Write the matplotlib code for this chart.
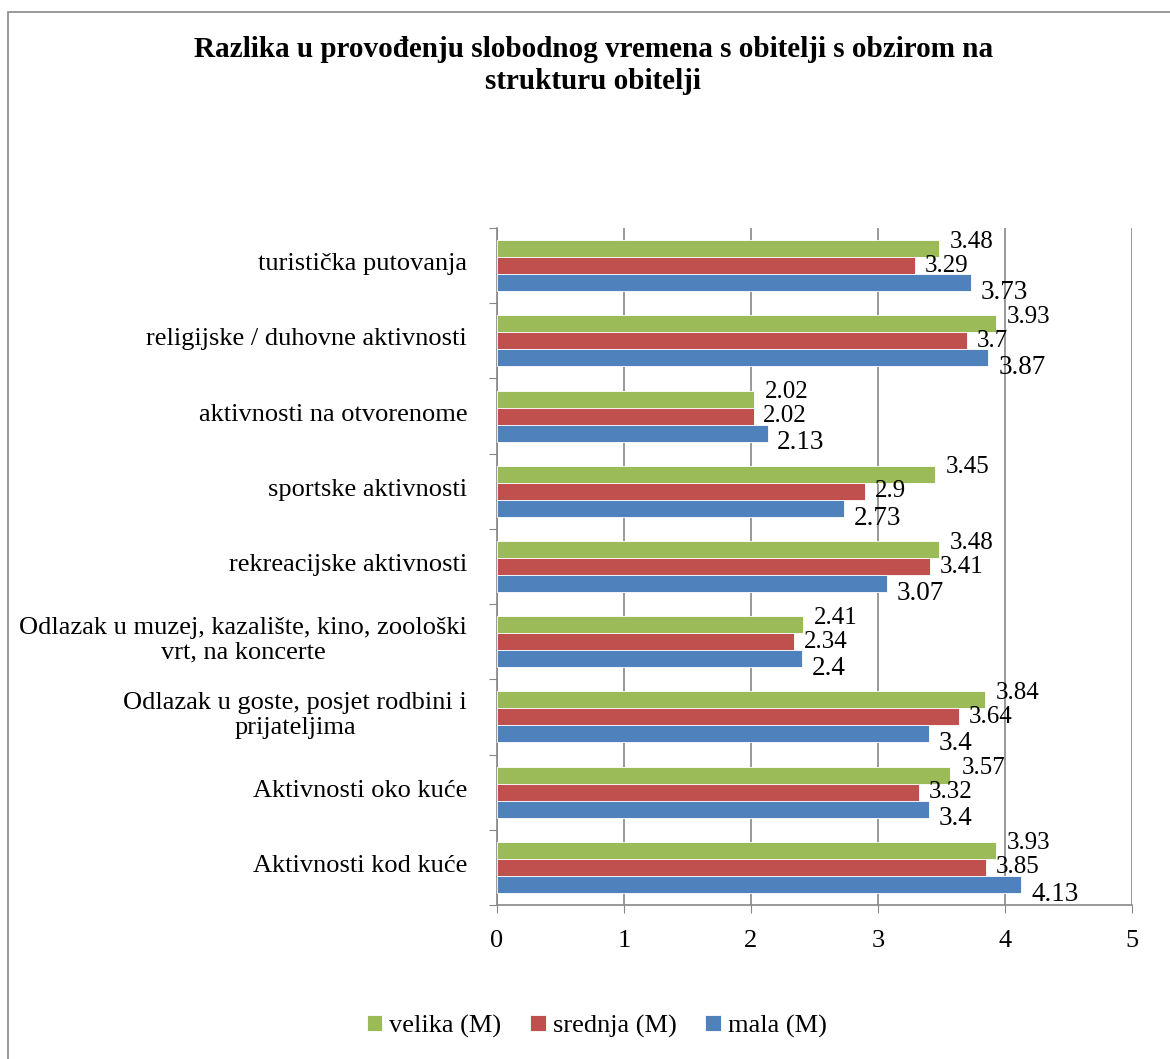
import matplotlib
matplotlib.use("Agg")
import matplotlib.pyplot as plt
import numpy as np
from matplotlib.patches import Rectangle

categories = [
    "Aktivnosti kod kuće",
    "Aktivnosti oko kuće",
    "Odlazak u goste, posjet rodbini i\nprijateljima",
    "Odlazak u muzej, kazalište, kino, zoološki\nvrt, na koncerte",
    "rekreacijske aktivnosti",
    "sportske aktivnosti",
    "aktivnosti na otvorenome",
    "religijske / duhovne aktivnosti",
    "turistička putovanja",
]
mala = [4.13, 3.4, 3.4, 2.4, 3.07, 2.73, 2.13, 3.87, 3.73]
srednja = [3.85, 3.32, 3.64, 2.34, 3.41, 2.9, 2.02, 3.7, 3.29]
velika = [3.93, 3.57, 3.84, 2.41, 3.48, 3.45, 2.02, 3.93, 3.48]

GREEN = "#9BBB59"
RED = "#C0504D"
BLUE = "#4F81BD"

plt.rcParams["font.family"] = ["Liberation Serif", "DejaVu Serif"]

fig = plt.figure(figsize=(11.7, 10.59), dpi=100)
ax = fig.add_axes([0.4248, 0.1454, 0.5427, 0.6393])

y = np.arange(len(categories))
h = 0.226
# (label, values, colour, bar offset, label offset in points, label size)
series = [
    ("velika (M)", velika, GREEN, h, (8, 5), 18),
    ("srednja (M)", srednja, RED, 0, (7, 0), 18),
    ("mala (M)", mala, BLUE, -h, (7, -7), 19.5),
]
for label, vals, color, off, (dx, dy), fs in series:
    ax.barh(y + off, vals, height=h, color=color, edgecolor="white",
            linewidth=0.6, label=label, zorder=3)
    for yi, v in zip(y, vals):
        ax.annotate(f"{v:g}", (v, yi + off), xytext=(dx, dy),
                    textcoords="offset points", ha="left", va="center",
                    fontsize=fs, zorder=4)

ax.set_xlim(0, 5)
ax.set_ylim(-0.5, len(categories) - 0.5)
ax.set_xticks(range(6))
ax.tick_params(axis="x", labelsize=19, length=6, color="#878787",
               direction="out", pad=12)
ax.set_yticks(np.arange(-0.5, len(categories), 1))
ax.set_yticklabels([])
ax.tick_params(axis="y", length=6, color="#878787", direction="out")
for yi, cat in zip(y, categories):
    ax.text(-0.235, yi + 0.02, cat, ha="right", va="center", fontsize=19,
            multialignment="center", linespacing=1.15)

ax.grid(axis="x", color="#878787", linewidth=1.2, zorder=0)
for s in ["top", "right"]:
    ax.spines[s].set_visible(False)
for s in ["left", "bottom"]:
    ax.spines[s].set_color("#878787")
    ax.spines[s].set_linewidth(1.2)

fig.text(0.507, 0.938, "Razlika u provođenju slobodnog vremena s obitelji s obzirom na\nstrukturu obitelji",
         ha="center", va="center", fontsize=21, fontweight="bold", linespacing=1.22)

handles, labels = ax.get_legend_handles_labels()
fig.legend(handles, labels, loc="center", bbox_to_anchor=(0.51, 0.031),
           ncol=3, frameon=False, fontsize=19, handlelength=0.6,
           handleheight=0.6, handletextpad=0.25, columnspacing=1.1)

fig.patches.append(Rectangle((8 / 1170, -0.01), 1.02, 1 - 12 / 1059 + 0.01,
                             transform=fig.transFigure, fill=False,
                             edgecolor="#878787", linewidth=1.2))

fig.savefig("out.png", dpi=100)
